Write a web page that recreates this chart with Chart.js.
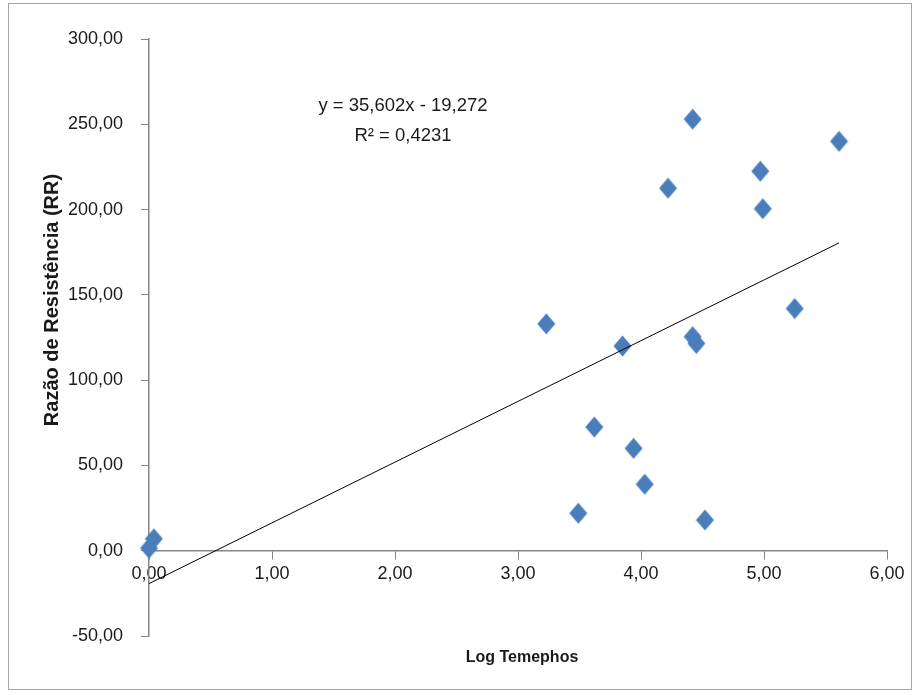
<!DOCTYPE html>
<html lang="pt-BR">
<head>
<meta charset="utf-8">
<title>Razão de Resistência x Log Temephos</title>
<script src="https://cdn.jsdelivr.net/npm/chart.js@4.4.1/dist/chart.umd.min.js"></script>
<style>
  html, body { margin: 0; padding: 0; background: #fff; }
  #grafico { display: block; }
</style>
</head>
<body>
<canvas id="grafico" width="917" height="695"></canvas>
<script>
// Dados: log da dose de temephos e razão de resistência de cada população
const logTemephos = [0.00, 0.04, 3.23, 3.49, 3.62, 3.85, 3.94, 4.03, 4.22, 4.42, 4.42, 4.45, 4.52, 4.97, 4.99, 5.25, 5.61];
const razaoResistencia = [1.5, 7.0, 133.0, 22.0, 72.5, 120.0, 60.0, 39.0, 212.5, 253.0, 125.5, 121.5, 18.0, 222.5, 200.5, 142.0, 240.0];

// Linha de tendência (regressão linear) e R²
const inclinacao = 35.602;
const intercepto = -19.272;
const r2 = 0.4231;

// Ticks dos eixos
const ticksX = [0, 1, 2, 3, 4, 5, 6];
const ticksY = [-50, 0, 50, 100, 150, 200, 250, 300];

const fonte = '"Liberation Sans", Arial, sans-serif';
const corTexto = "#1a1a1a";
const corEixo = "#868686";
const corPonto = "#4a7ebb";

// Formato brasileiro: casas decimais com vírgula
const formatar = (v, casas) => v.toFixed(casas).replace(".", ",");

const pontos = logTemephos.map((x, i) => ({ x: x, y: razaoResistencia[i] }));

const xMin = Math.min(...logTemephos);
const xMax = Math.max(...logTemephos);
const tendencia = [
  { x: xMin, y: inclinacao * xMin + intercepto },
  { x: xMax, y: inclinacao * xMax + intercepto },
];

// Marcador em losango, um pouco mais alto que largo (estilo Excel)
const losango = document.createElement("canvas");
losango.width = 19;
losango.height = 22;
const lctx = losango.getContext("2d");
lctx.fillStyle = corPonto;
lctx.beginPath();
lctx.moveTo(9.5, 0.5);
lctx.lineTo(18.5, 11);
lctx.lineTo(9.5, 21.5);
lctx.lineTo(0.5, 11);
lctx.closePath();
lctx.fill();

// Textos fixos: moldura, títulos dos eixos e equação da reta
const textos = {
  id: "textos",
  beforeDraw(chart) {
    const ctx = chart.ctx;
    ctx.save();
    ctx.strokeStyle = "#a6a6a6";
    ctx.lineWidth = 1;
    ctx.strokeRect(8.5, 3.5, 903, 686);
    ctx.restore();
  },
  afterDraw(chart) {
    const ctx = chart.ctx;
    const { x, y } = chart.scales;
    ctx.save();
    ctx.fillStyle = corTexto;
    ctx.textAlign = "center";
    ctx.textBaseline = "middle";

    // Título do eixo X
    ctx.font = "bold 16px " + fonte;
    ctx.fillText("Log Temephos", 522, 658);

    // Título do eixo Y (rotacionado)
    ctx.save();
    ctx.translate(52, 300);
    ctx.rotate(-Math.PI / 2);
    ctx.font = "bold 20px " + fonte;
    ctx.fillText("Razão de Resistência (RR)", 0, 0);
    ctx.restore();

    // Equação e R²
    ctx.font = "18.5px " + fonte;
    const ex = x.getPixelForValue(2.065);
    const sinal = intercepto < 0 ? " - " : " + ";
    ctx.fillText("y = " + formatar(inclinacao, 3) + "x" + sinal + formatar(Math.abs(intercepto), 3), ex, y.getPixelForValue(260.5));
    ctx.fillText("R² = " + formatar(r2, 4), ex, y.getPixelForValue(243));
    ctx.restore();
  },
};

const ctx = document.getElementById("grafico");

new Chart(ctx, {
  type: "scatter",
  data: {
    datasets: [
      {
        type: "line",
        label: "Linear",
        data: tendencia,
        borderColor: "#000",
        borderWidth: 1,
        pointRadius: 0,
        fill: false,
        order: 0,
      },
      {
        label: "RR",
        data: pontos,
        pointStyle: losango,
        pointRadius: 10,
        backgroundColor: corPonto,
        borderColor: corPonto,
        borderWidth: 0,
        clip: false,
        order: 1,
      },
    ],
  },
  options: {
    responsive: false,
    animation: false,
    events: [],
    layout: { padding: { left: 0, top: 39, right: 30, bottom: 59 } },
    plugins: {
      legend: { display: false },
      tooltip: { enabled: false },
    },
    scales: {
      x: {
        type: "linear",
        position: { y: 0 },
        min: 0,
        max: 6,
        afterBuildTicks: (scale) => {
          scale.ticks = ticksX.map((v) => ({ value: v }));
        },
        grid: {
          drawOnChartArea: false,
          drawTicks: true,
          tickLength: 8,
          color: corEixo,
        },
        border: { color: corEixo, width: 1.5 },
        ticks: {
          color: corTexto,
          font: { family: fonte, size: 18 },
          padding: 5,
          maxRotation: 0,
          callback: (v) => formatar(v, 2),
        },
      },
      y: {
        type: "linear",
        position: "left",
        min: -50,
        max: 300,
        afterBuildTicks: (scale) => {
          scale.ticks = ticksY.map((v) => ({ value: v }));
        },
        afterFit: (scale) => {
          scale.width = 149;
        },
        grid: {
          drawOnChartArea: false,
          drawTicks: true,
          tickLength: 8,
          color: corEixo,
        },
        border: { color: corEixo, width: 1.5 },
        ticks: {
          color: corTexto,
          font: { family: fonte, size: 18 },
          padding: 18,
          callback: (v) => formatar(v, 2),
        },
      },
    },
  },
  plugins: [textos],
});
</script>
</body>
</html>
